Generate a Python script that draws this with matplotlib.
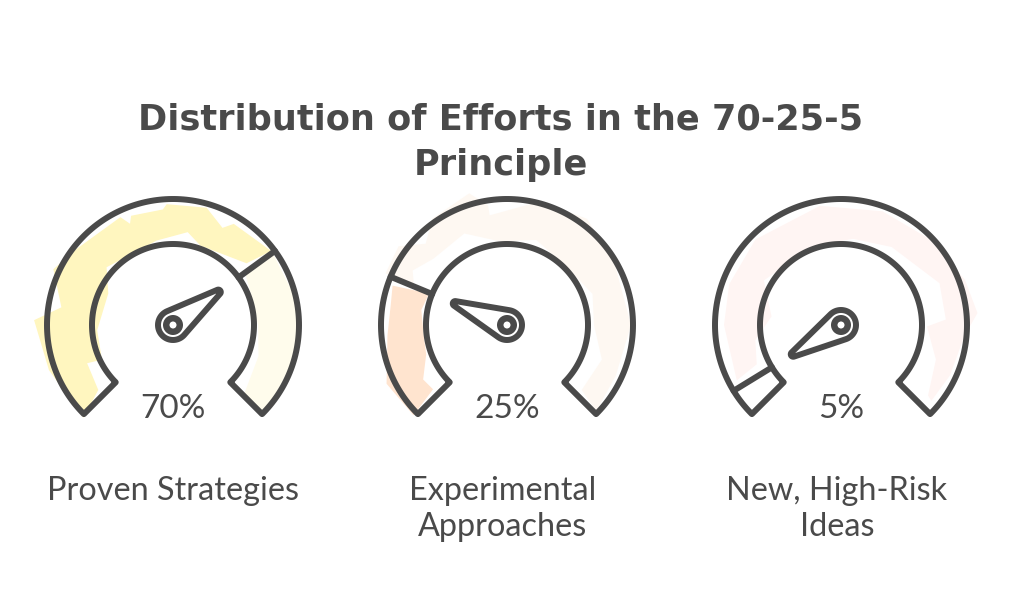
import numpy as np
import matplotlib
matplotlib.use('Agg')
import matplotlib.pyplot as plt
from matplotlib.patches import Polygon, Circle

title_lines = ['Distribution of Efforts in the 70-25-5', 'Principle']
percents = [70, 25, 5]
labels = [['Proven Strategies'], ['Experimental', 'Approaches'], ['New, High-Risk', 'Ideas']]
centers_x = [173, 507, 841]

# colours of the filled part and of the rest of each gauge
colors_on = ['#FFF6BF', '#FFE4CF', '#FFFFFF']
colors_off = ['#FFFCEC', '#FEF8F2', '#FFF5F3']

# hand drawn fill edges, (angle in degrees, offset in px from the ring edge)
g1_on_outer = [(226, 3), (200, 6), (178, 13), (171, -13), (155, 6), (142, -3), (116, -6),
               (113, -16), (111, -9), (95, -10), (93, -5), (74, -4), (63, -17), (59, -8), (37, -3)]
g1_on_inner = [(221, 18), (204, 13), (206, -2), (184, -5), (154, -9), (139, 7), (101, 5),
               (81, 13), (71, 3), (40, 15)]
g1_off_outer = [(36, -3), (15, -2), (0, 3), (-20, -2), (-44, 2)]
g1_off_inner = [(36, 8), (22, 3), (0, 4), (-20, 10), (-44, 18)]
g2_on_outer = [(224, 4), (206, 8), (185, -6), (170, -8), (161, -5)]
g2_on_inner = [(221, 17), (213, 19), (200, 5), (188, 3), (170, 6), (158, 3)]
g2_off_outer = [(157, 6), (144, 8), (135, -11), (125, 4), (106, 11), (99, -5), (99, -15), (75, 2), (53, 7), (30, -2), (0, -2), (-25, -6), (-44, -2)]
g2_off_inner = [(157, 20), (150, 28), (138, 18), (115, 20), (95, 3), (71, 9), (45, 2), (20, 10), (0, 6), (-20, 20), (-41, 18)]
g3_off_outer = [(208, -8), (180, -9), (160, -7), (135, -5), (100, -5), (70, -5), (45, -3), (20, 6), (5, 11), (-5, -2), (-25, -6), (-40, -8)]
g3_off_inner = [(205, 12), (190, 6), (173, -11), (150, 8), (110, 3), (82, 6), (57, 12), (23, 26), (3, 24), (-1, 5), (-20, 20), (-39, 31)]

on_edges = [(g1_on_outer, g1_on_inner), (g2_on_outer, g2_on_inner), None]
off_edges = [(g1_off_outer, g1_off_inner), (g2_off_outer, g2_off_inner), (g3_off_outer, g3_off_inner)]

DARK = '#4A4A4A'
CY = 325
R_OUT = 126
R_IN = 81
START = 225
SWEEP = 270
LW = 4.3
NEEDLE = 56
TIP = 2.5
HUB = 15


def polar(cx, r, deg):
    a = np.radians(deg)
    return cx + r * np.cos(a), CY - r * np.sin(a)


def sketch_fill(ax, cx, edges, color):
    outer, inner = edges
    pts = [polar(cx, R_OUT + o, a) for a, o in outer]
    pts += [polar(cx, R_IN + o, a) for a, o in reversed(inner)]
    ax.add_patch(Polygon(pts, closed=True, fc=color, ec='none', zorder=1))


def draw_gauge(ax, cx, pct, on, off):
    angle = START - pct / 100 * SWEEP
    if on:
        sketch_fill(ax, cx, on, colors_on[centers_x.index(cx)])
    sketch_fill(ax, cx, off, colors_off[centers_x.index(cx)])

    # ring outline
    th = np.linspace(START, START - SWEEP, 200)
    ring = [polar(cx, R_OUT, t) for t in th] + [polar(cx, R_IN, t) for t in th[::-1]]
    ax.add_patch(Polygon(ring, closed=True, fc='none', ec=DARK, lw=LW, joinstyle='round', zorder=3))

    # divider
    x0, y0 = polar(cx, R_IN, angle)
    x1, y1 = polar(cx, R_OUT, angle)
    ax.plot([x0, x1], [y0, y1], color=DARK, lw=LW, solid_capstyle='round', zorder=3)

    # needle, hub circle running into a small round tip
    back = np.linspace(angle + 78, angle + 282, 40)
    outline = [polar(cx, HUB, t) for t in back]
    tx, ty = polar(cx, NEEDLE, angle)
    for t in np.linspace(angle - 85, angle + 85, 9):
        a = np.radians(t)
        outline.append((tx + TIP * np.cos(a), ty - TIP * np.sin(a)))
    ax.add_patch(Polygon(outline, closed=True, fc='white', ec=DARK, lw=LW, joinstyle='round', zorder=4))
    ax.add_patch(Circle((cx, CY), 10, fc=DARK, ec='none', zorder=5))
    ax.add_patch(Circle((cx, CY), 3.5, fc='white', ec='none', zorder=6))


fig = plt.figure(figsize=(10.24, 6.15), dpi=100)
ax = fig.add_axes([0, 0, 1, 1])
ax.set_xlim(0, 1024)
ax.set_ylim(615, 0)
ax.axis('off')

for i, cx in enumerate(centers_x):
    draw_gauge(ax, cx, percents[i], on_edges[i], off_edges[i])
    ax.text(cx, 409, f'{percents[i]}%', ha='center', va='center', fontsize=24,
            family='Lato', color=DARK)
    for j, line in enumerate(labels[i]):
        ax.text(cx - 4 * (i > 0), 491 + j * 36, line, ha='center', va='center', fontsize=23.3,
                family='Lato', color=DARK)

for j, line in enumerate(title_lines):
    ax.text(501, 120 + j * 45, line, ha='center', va='center', fontsize=25.3,
            family='DejaVu Sans', fontweight='bold', color=DARK)

fig.savefig('out.png', dpi=100)
